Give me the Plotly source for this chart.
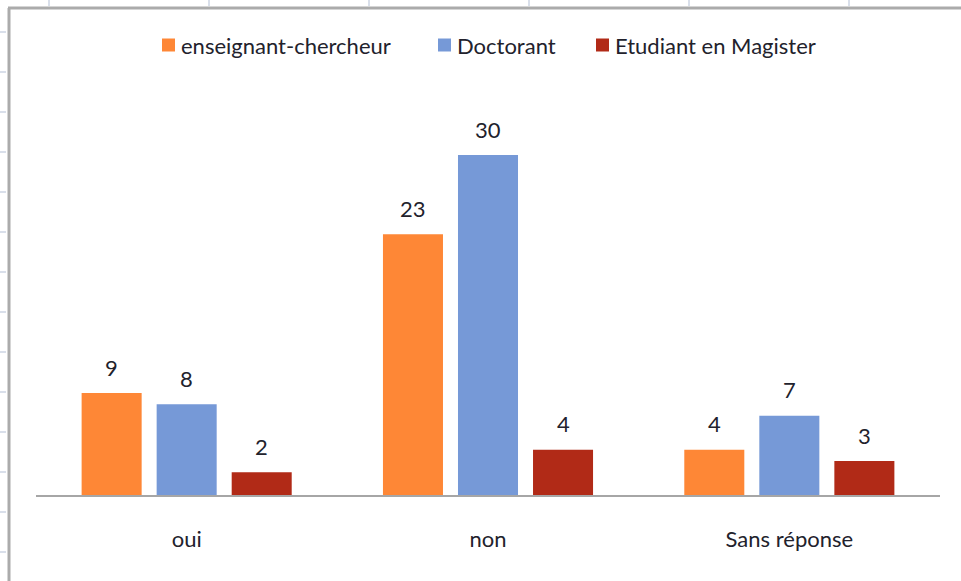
import plotly.graph_objects as go

categories = ["oui", "non", "Sans réponse"]
series_names = ["enseignant-chercheur", "Doctorant", "Etudiant en Magister"]
enseignant = [9, 23, 4]
doctorant = [8, 30, 7]
magister = [2, 4, 3]
series_values = [enseignant, doctorant, magister]
colors = ["#FE8736", "#7699D7", "#B12A17"]

W, H = 961, 581
L, R, T, B = 36, 940, 115, 495  # plot area in pixels
YMAX = 33.53

def px_x(x):
    return (x - L) / (R - L)

def px_y(y):
    return (B - y) / (B - T)

FONT = "Lato, 'Open Sans', sans-serif"
TXT = "#22222c"
FS = 22

fig = go.Figure()
for name, vals, col in zip(series_names, series_values, colors):
    fig.add_trace(go.Bar(x=categories, y=vals, name=name, showlegend=False,
                         marker=dict(color=col, line=dict(width=0))))

# data labels
offsets = [-75, 0, 75]
annotations = []
for vals, off in zip(series_values, offsets):
    for c, v in zip(categories, vals):
        annotations.append(dict(x=c, y=v, xref="x", yref="y", text=str(v),
                                showarrow=False, xshift=off, yshift=26,
                                yanchor="middle",
                                font=dict(family=FONT, size=FS, color=TXT)))

shapes = []
# legend (square swatch + label)
legend_sq_x = [162, 438, 596]
LEG_Y = 45
for name, col, sx in zip(series_names, colors, legend_sq_x):
    shapes.append(dict(type="rect", xref="paper", yref="paper",
                       x0=px_x(sx), x1=px_x(sx + 13),
                       y0=px_y(LEG_Y + 6.5), y1=px_y(LEG_Y - 6.5),
                       fillcolor=col, line=dict(width=0)))
    annotations.append(dict(x=px_x(sx + 17), y=px_y(LEG_Y), xref="paper",
                            yref="paper", text=name, showarrow=False,
                            xanchor="left", yanchor="middle",
                            font=dict(family=FONT, size=FS, color=TXT)))

# spreadsheet frame lines
shapes.append(dict(type="line", xref="paper", yref="paper",
                   x0=px_x(9), x1=px_x(9), y0=px_y(8), y1=px_y(581),
                   line=dict(color="#ababab", width=3)))
shapes.append(dict(type="line", xref="paper", yref="paper",
                   x0=px_x(8), x1=px_x(961), y0=px_y(8), y1=px_y(8),
                   line=dict(color="#ababab", width=3)))
for yy in range(32, 581, 40):
    shapes.append(dict(type="line", xref="paper", yref="paper",
                       x0=px_x(0), x1=px_x(6), y0=px_y(yy), y1=px_y(yy),
                       line=dict(color="#cdd5e3", width=1.5)))
for xx in range(49, 961, 160):
    shapes.append(dict(type="line", xref="paper", yref="paper",
                       x0=px_x(xx), x1=px_x(xx), y0=px_y(0), y1=px_y(6),
                       line=dict(color="#cdd5e3", width=1.5)))

fig.update_layout(
    width=W, height=H,
    margin=dict(l=L, r=W - R, t=T, b=H - B, pad=0),
    paper_bgcolor="white", plot_bgcolor="white",
    barmode="group", bargap=0.253, bargroupgap=0.2,
    font=dict(family=FONT, size=FS, color=TXT),
    showlegend=False,
    annotations=annotations,
    shapes=shapes,
    xaxis=dict(showline=True, linecolor="#a6a6a6", linewidth=2,
               showgrid=False, zeroline=False, ticks="outside", ticklen=0,
               ticklabelstandoff=24,
               tickfont=dict(family=FONT, size=FS, color=TXT)),
    yaxis=dict(range=[0, YMAX], visible=False, showgrid=False, zeroline=False),
)

fig.write_html("out.html", config={"displayModeBar": False},
               post_script="document.body.style.margin='0';document.body.style.padding='0';document.body.style.overflow='hidden';")
